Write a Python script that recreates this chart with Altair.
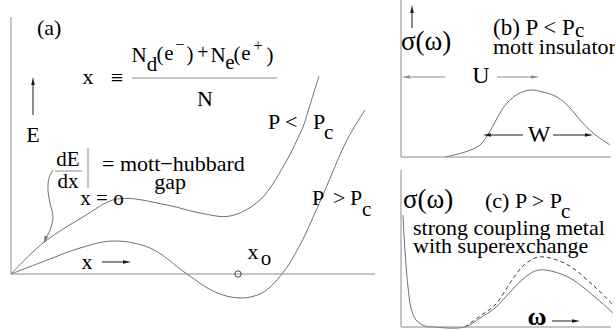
import altair as alt
import pandas as pd

# ---------------- panel (a): energy E against doping x ----------------
# curve for P < Pc (local minimum stays above the x = 0 state)
below_x = [11, 43, 83, 117, 167, 200, 230, 260, 287, 297, 303, 310, 319]
below_y = [274, 243, 217, 199, 205, 213, 216, 200, 160, 140, 127, 105, 76]
# curve for P > Pc (minimum at x_o drops below the axis)
above_x = [11, 50, 80, 113, 150, 187, 215, 240, 262, 282, 300, 322, 347, 365]
above_y = [274, 259, 248, 241, 248, 274, 292, 298, 293, 274, 245, 197, 140, 110]
# curly pointer to the initial slope dE/dx
pointer_x = [53, 49, 48, 50, 53, 50, 46]
pointer_y = [170, 178, 190, 203, 217, 230, 238]
# the minimum x_o marked on the axis
xo_x = [238]
xo_y = [274]

# ---------------- panel (b): sigma(omega) of the Mott insulator ----------------
mott_x = [445, 465, 480, 490, 500, 507, 518, 530, 543, 557, 570, 580, 593, 610]
mott_y = [157, 152, 145, 131, 113, 103, 94, 90, 92, 97, 108, 120, 133, 145]

# ---------------- panel (c): sigma(omega) of the strong-coupling metal ----------------
metal_x = [403, 404, 406, 408, 411, 416, 425, 433, 465, 480, 495, 512, 523, 535, 545, 568, 595, 613]
metal_y = [215, 235, 265, 287, 308, 320, 326, 327, 327, 318, 308, 290, 279, 271, 270, 277, 297, 313]
exch_x = [465, 480, 495, 512, 523, 535, 545, 568, 595, 613]
exch_y = [327, 316, 305, 280, 266, 258, 257, 265, 287, 305]

# straight strokes: axes, arrow shafts, fraction bars  (name, xs, ys, tone)
strokes = [
    ("a_vert", [11, 11], [17, 274], "axis"),
    ("a_horiz", [11, 375], [274, 274], "axis"),
    ("E_shaft", [33, 33], [115, 84], "dark"),
    ("x_shaft", [102, 124], [262, 262], "dark"),
    ("frac_x", [132, 277], [78, 78], "axis"),
    ("frac_dEdx", [55, 82], [171, 171], "axis"),
    ("eval_bar", [88, 88], [148, 188], "axis"),
    ("b_vert", [401, 401], [0, 157], "axis"),
    ("b_horiz", [401, 611], [157, 157], "axis"),
    ("sig_shaft", [412, 412], [28, 12], "dark"),
    ("U_left", [445, 408], [77, 77], "axis"),
    ("U_right", [497, 533], [77, 77], "axis"),
    ("W_left", [523, 489], [135, 135], "dark"),
    ("W_right", [553, 587], [135, 135], "dark"),
    ("c_vert", [401, 401], [170, 327], "axis"),
    ("c_horiz", [401, 611], [327, 327], "axis"),
    ("w_shaft", [552, 573], [321, 321], "dark"),
]

# arrow heads: centre x, centre y, direction (degrees clockwise, 0 = up)
head_x = [33, 127, 45, 412, 406, 535, 487, 589, 576]
head_y = [81, 262, 240, 9, 77, 77, 135, 135, 321]
head_dir = [0, 90, 200, 0, 270, 90, 270, 90, 90]
head_tone = ["dark", "dark", "curve", "dark", "axis", "axis", "dark", "dark", "dark"]

# text labels: string, x, y, font size, alignment, weight
txt = [
    ("(a)", 37, 28, 22, "left", "normal"),
    ("x", 88, 77, 22, "center", "normal"),
    ("≡", 117, 78, 22, "center", "normal"),
    ("N", 139, 56, 21, "center", "normal"),
    ("d", 152, 65, 21, "center", "normal"),
    ("(", 160, 55, 21, "center", "normal"),
    ("e", 169, 54, 21, "center", "normal"),
    ("−", 180, 45, 16, "center", "normal"),
    (")", 190, 55, 21, "center", "normal"),
    ("+", 203, 53, 20, "center", "normal"),
    ("N", 218, 56, 21, "center", "normal"),
    ("e", 230, 63, 21, "center", "normal"),
    ("(", 237, 55, 21, "center", "normal"),
    ("e", 246, 54, 21, "center", "normal"),
    ("+", 258, 46, 16, "center", "normal"),
    (")", 270, 56, 21, "center", "normal"),
    ("N", 205, 99, 22, "center", "normal"),
    ("E", 33, 135, 22, "center", "normal"),
    ("dE", 68, 160, 21, "center", "normal"),
    ("dx", 68, 182, 21, "center", "normal"),
    ("= mott−hubbard", 102, 164, 22, "left", "normal"),
    ("gap", 170, 182, 22, "center", "normal"),
    ("x = o", 102, 199, 21, "center", "normal"),
    ("x", 87, 262, 22, "center", "normal"),
    ("P <", 268, 122, 22, "left", "normal"),
    ("P", 313, 122, 22, "left", "normal"),
    ("c", 324, 133, 21, "left", "normal"),
    ("P", 312, 198, 22, "left", "normal"),
    (">", 333, 198, 22, "left", "normal"),
    ("P", 350, 198, 22, "left", "normal"),
    ("c", 362, 210, 21, "left", "normal"),
    ("x", 253, 252, 22, "center", "normal"),
    ("o", 266, 259, 21, "center", "normal"),
    ("σ(ω)", 401, 42, 27, "left", "normal"),
    ("(b) P < P", 493, 28, 23, "left", "normal"),
    ("c", 575, 31, 21, "left", "normal"),
    ("mott insulator", 493, 47, 22, "left", "normal"),
    ("U", 481, 76, 24, "center", "normal"),
    ("W", 539, 135, 24, "center", "normal"),
    ("σ(ω)", 403, 200, 27, "left", "normal"),
    ("(c) P > P", 485, 201, 22, "left", "normal"),
    ("c", 561, 212, 21, "left", "normal"),
    ("strong coupling metal", 413, 228, 22, "left", "normal"),
    ("with  superexchange", 413, 246, 22, "left", "normal"),
    ("ω", 537, 317, 26, "center", "bold"),
]

SERIF = "Liberation Serif"
# slim triangular arrow head pointing up, rotated by the angle channel
ARROW = "M0,-1L0.45,1L-0.45,1Z"


def rows(name, xs, ys, tone):
    return [dict(id=name, i=k, x=a, y=b, tone=tone) for k, (a, b) in enumerate(zip(xs, ys))]


smooth = pd.DataFrame(
    rows("below", below_x, below_y, "curve")
    + rows("above", above_x, above_y, "curve")
    + rows("pointer", pointer_x, pointer_y, "curve")
    + rows("mott", mott_x, mott_y, "curve")
    + rows("metal", metal_x, metal_y, "curve")
)
dashed = pd.DataFrame(rows("exch", exch_x, exch_y, "curve"))
straight = pd.DataFrame(sum((rows(n, xs, ys, t) for n, xs, ys, t in strokes), []))
heads = pd.DataFrame({"x": head_x, "y": head_y, "dir": head_dir, "tone": head_tone})
marker = pd.DataFrame({"x": xo_x, "y": xo_y})
labels = pd.DataFrame(txt, columns=["label", "x", "y", "size", "align", "weight"])

X = alt.X("x:Q", scale=alt.Scale(domain=[0, 615], nice=False, zero=False), axis=None)
Y = alt.Y("y:Q", scale=alt.Scale(domain=[0, 331], nice=False, zero=False, reverse=True), axis=None)
tone = alt.Color(
    "tone:N",
    scale=alt.Scale(domain=["curve", "axis", "dark"], range=["#6f6f6f", "#8c8c8c", "#1a1a1a"]),
    legend=None,
)

curves = alt.Chart(smooth).mark_line(strokeWidth=1, interpolate="catmull-rom").encode(
    x=X, y=Y, detail="id:N", order="i:Q", color=tone
)
dash_curve = alt.Chart(dashed).mark_line(
    strokeWidth=1, interpolate="catmull-rom", strokeDash=[4, 3], color="#3a3a3a"
).encode(x=X, y=Y, order="i:Q")
lines = alt.Chart(straight).mark_line(strokeWidth=1).encode(
    x=X, y=Y, detail="id:N", order="i:Q", color=tone
)
arrowheads = alt.Chart(heads).mark_point(
    shape=ARROW, filled=True, size=64, opacity=1, strokeWidth=0
).encode(x=X, y=Y, angle=alt.Angle("dir:Q", scale=None), color=tone)
circle = alt.Chart(marker).mark_point(
    shape="circle", filled=False, size=40, color="#444", strokeWidth=1, opacity=1
).encode(x=X, y=Y)

# one text layer per (alignment, size, weight) so the font is set on the mark itself
text_layers = []
for (align, size, weight), _ in labels.groupby(["align", "size", "weight"]):
    text_layers.append(
        alt.Chart(labels).transform_filter(
            (alt.datum.align == align) & (alt.datum.size == int(size)) & (alt.datum.weight == weight)
        ).mark_text(
            align=align, baseline="middle", font=SERIF, fontSize=int(size),
            fontWeight=weight, color="black",
        ).encode(x=X, y=Y, text="label:N")
    )

chart = (
    alt.layer(curves, dash_curve, lines, arrowheads, circle, *text_layers)
    .properties(
        width=615, height=331, autosize=alt.AutoSizeParams(type="none"), padding=0,
        background="white",
    )
    .configure_view(stroke=None)
)

chart.save("out.html", embed_options={"renderer": "svg", "actions": False})
